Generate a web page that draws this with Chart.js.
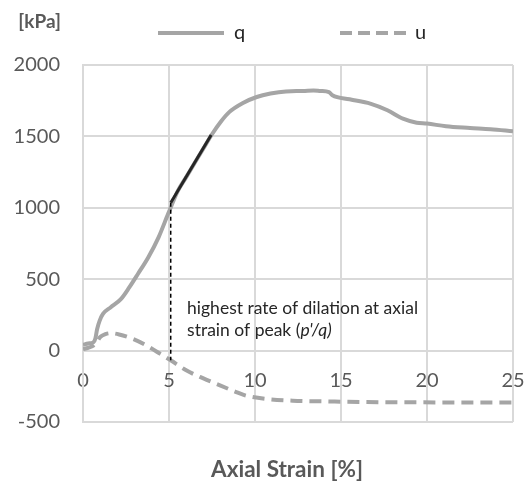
<!DOCTYPE html>
<html>
<head>
<meta charset="utf-8">
<script src="https://cdn.jsdelivr.net/npm/chart.js@4"></script>
<style>
  html, body { margin: 0; padding: 0; background: #ffffff; }
  #wrap { width: 528px; height: 481px; position: relative; }
</style>
</head>
<body>
<div id="wrap"><canvas id="c" width="528" height="481"></canvas></div>
<script>
// ---- data ----
const qStrain = [0, 0.3, 0.6, 0.72, 0.82, 0.97, 1.16, 1.6, 2.2, 2.7, 3.2, 3.8, 4.4, 4.95, 5.5, 6.0, 6.5, 7.0, 7.5, 8.0, 8.5, 9.3, 10.1, 10.9, 11.8, 12.8, 13.4, 13.8, 14.3, 14.5, 15.5, 16.7, 17.7, 18.6, 19.4, 20.0, 21.1, 22.5, 23.7, 25];
const qValues = [40, 50, 58, 85, 150, 210, 257, 302, 360, 444, 538, 654, 795, 958, 1115, 1215, 1315, 1415, 1515, 1601, 1670, 1734, 1776, 1800, 1815, 1818, 1822, 1818, 1810, 1788, 1760, 1730, 1683, 1624, 1596, 1590, 1571, 1559, 1550, 1536];
const uStrain = [0, 0.3, 0.6, 0.8, 1.0, 1.3, 1.6, 2.1, 2.9, 3.7, 4.5, 5.1, 6.0, 7.0, 8.0, 9.0, 9.5, 10.7, 12.2, 14.2, 18, 25];
const uValues = [10, 20, 35, 60, 95, 115, 122, 113, 82, 35, -23, -68, -138, -195, -245, -295, -316, -339, -351, -356, -362, -363];
const tangentStrain = [5.1, 7.45];
const tangentValues = [1035, 1510];
const markerStrain = [5.1, 5.1];
const markerValues = [1035, -68];
const xTicks = [0, 5, 10, 15, 20, 25];
const yTicks = [-500, 0, 500, 1000, 1500, 2000];
const seriesNames = ['q', 'u'];
const yUnit = '[kPa]';
const xTitle = 'Axial Strain [%]';
const noteLine1 = 'highest rate of dilation at axial';
const noteLine2a = 'strain of peak (';
const noteLine2b = "p'/q)";

const pts = (xs, ys) => xs.map((x, i) => ({ x: x, y: ys[i] }));

const FONT = 'Lato, "Open Sans", "DejaVu Sans", sans-serif';
const GRID = '#D9D9D9';
const SERIES = '#A5A5A5';

const textPlugin = {
  id: 'texts',
  afterDraw(chart) {
    const ctx = chart.ctx;
    const xs = chart.scales.x, ys = chart.scales.y;
    ctx.save();
    // unit label
    ctx.fillStyle = '#595959';
    ctx.font = 'bold 19px ' + FONT;
    ctx.textAlign = 'right';
    ctx.textBaseline = 'middle';
    ctx.fillText(yUnit, 61, 22);
    // x title
    ctx.font = 'bold 22.5px ' + FONT;
    ctx.textAlign = 'center';
    ctx.fillText(xTitle, 287, 470);
    // legend
    const ly = 33;
    ctx.lineWidth = 4;
    ctx.strokeStyle = SERIES;
    ctx.setLineDash([]);
    ctx.beginPath(); ctx.moveTo(158, ly); ctx.lineTo(224, ly); ctx.stroke();
    ctx.setLineDash([12, 6]);
    ctx.beginPath(); ctx.moveTo(340, ly); ctx.lineTo(406, ly); ctx.stroke();
    ctx.setLineDash([]);
    ctx.fillStyle = '#262626';
    ctx.font = '20px ' + FONT;
    ctx.textAlign = 'left';
    ctx.fillText(seriesNames[0], 234, ly);
    ctx.fillText(seriesNames[1], 415, ly);
    // annotation
    ctx.font = '17.5px ' + FONT;
    const ax = xs.getPixelForValue(6.05);
    ctx.fillText(noteLine1, ax, ys.getPixelForValue(295));
    const y2 = ys.getPixelForValue(140);
    ctx.fillText(noteLine2a, ax, y2);
    const w = ctx.measureText(noteLine2a).width;
    ctx.font = 'italic 17.5px ' + FONT;
    ctx.fillText(noteLine2b, ax + w, y2);
    ctx.restore();
  }
};

const plainNum = (v) => String(v);

new Chart(document.getElementById('c'), {
  type: 'line',
  data: {
    datasets: [
      { label: 'tangent', data: pts(tangentStrain, tangentValues), borderColor: '#262626', borderWidth: 3, pointRadius: 0, order: 0 },
      { label: 'marker', data: pts(markerStrain, markerValues), borderColor: '#000000', borderWidth: 1.5, borderDash: [4, 3], pointRadius: 0, order: 1 },
      { label: seriesNames[0], data: pts(qStrain, qValues), borderColor: SERIES, borderWidth: 4, pointRadius: 0, cubicInterpolationMode: 'monotone', order: 2 },
      { label: seriesNames[1], data: pts(uStrain, uValues), borderColor: SERIES, borderWidth: 4, borderDash: [12, 7], pointRadius: 0, cubicInterpolationMode: 'monotone', order: 3 }
    ]
  },
  options: {
    responsive: false,
    animation: false,
    devicePixelRatio: 1,
    layout: { padding: { top: 65, left: 0, right: 15, bottom: 59 } },
    plugins: { legend: { display: false }, tooltip: { enabled: false } },
    scales: {
      x: {
        type: 'linear', min: 0, max: 25,
        position: { y: 0 },
        afterFit(s) { s.height = 0; s.paddingLeft = 0; s.paddingRight = 0; },
        afterBuildTicks(s) { s.ticks = xTicks.map(v => ({ value: v })); },
        grid: { color: GRID, lineWidth: 2, drawTicks: false },
        border: { color: GRID, width: 2 },
        ticks: { color: '#595959', font: { family: FONT, size: 20 }, padding: 18, callback: plainNum }
      },
      y: {
        type: 'linear', min: -500, max: 2000,
        afterFit(s) { s.width = 83; s.paddingTop = 0; s.paddingBottom = 0; },
        afterBuildTicks(s) { s.ticks = yTicks.map(v => ({ value: v })); },
        grid: { color: GRID, lineWidth: 2, drawTicks: false },
        border: { color: GRID, width: 2 },
        ticks: { color: '#595959', font: { family: FONT, size: 20 }, padding: 23, callback: plainNum }
      }
    }
  },
  plugins: [textPlugin]
});
</script>
</body>
</html>
